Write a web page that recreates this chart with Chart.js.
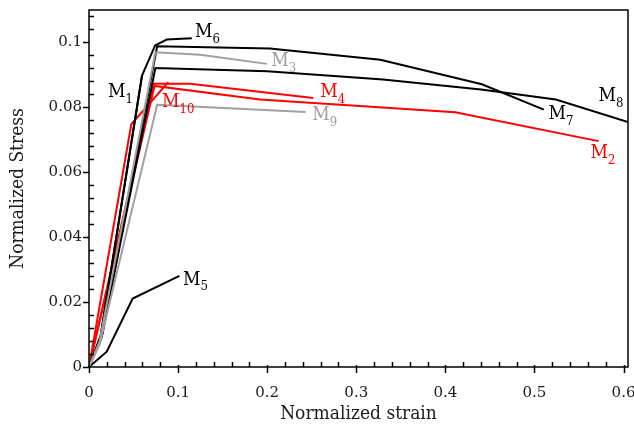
<!DOCTYPE html>
<html>
<head>
<meta charset="utf-8">
<script src="https://cdn.jsdelivr.net/npm/chart.js@4/dist/chart.umd.min.js"></script>
<style>
  html, body { margin: 0; padding: 0; background: #fff; }
  #wrap { width: 634px; height: 429px; }
</style>
</head>
<body>
<div id="wrap"><canvas id="chart" width="634" height="429"></canvas></div>
<script>
// tick values on both axes
const strainTicks = [0, 0.1, 0.2, 0.3, 0.4, 0.5, 0.6];
const stressTicks = [0, 0.02, 0.04, 0.06, 0.08, 0.1];

// curves: normalized strain / normalized stress
const m1Strain = [0, 0.013, 0.0595];
const m1Stress = [0, 0.0095, 0.0898];
const m2Strain = [0, 0.0735, 0.192, 0.411, 0.572];
const m2Stress = [0, 0.0866, 0.0824, 0.0785, 0.0696];
const m3Strain = [0, 0.012, 0.0745, 0.125, 0.1997];
const m3Stress = [0, 0.008, 0.097, 0.0962, 0.0934];
const m4Strain = [0, 0.0725, 0.1135, 0.2517];
const m4Stress = [0, 0.0873, 0.0873, 0.0829];
const m5Strain = [0, 0.0199, 0.049, 0.1015];
const m5Stress = [0, 0.0047, 0.0211, 0.0281];
const m6Strain = [0, 0.013, 0.0595, 0.0742, 0.0873, 0.1154];
const m6Stress = [0, 0.0095, 0.0898, 0.0991, 0.1009, 0.1013];
const m7Strain = [0, 0.015, 0.0765, 0.203, 0.327, 0.441, 0.5105];
const m7Stress = [0, 0.01, 0.0988, 0.0981, 0.0947, 0.0871, 0.0793];
const m8Strain = [0, 0.014, 0.0745, 0.2, 0.33, 0.44, 0.524, 0.605];
const m8Stress = [0, 0.009, 0.0921, 0.0911, 0.0886, 0.0855, 0.0824, 0.0755];
const m9Strain = [0, 0.012, 0.0765, 0.243];
const m9Stress = [0, 0.007, 0.0808, 0.0786];
const m10Strain = [0, 0.0475, 0.089];
const m10Stress = [0, 0.0748, 0.0878];

const BLACK = '#000000';
const RED = '#ff0000';
const GREY = '#a0a0a0';

const curves = [
  { name: 'M9', x: m9Strain, y: m9Stress, color: GREY },
  { name: 'M3', x: m3Strain, y: m3Stress, color: GREY },
  { name: 'M5', x: m5Strain, y: m5Stress, color: BLACK },
  { name: 'M8', x: m8Strain, y: m8Stress, color: BLACK },
  { name: 'M7', x: m7Strain, y: m7Stress, color: BLACK },
  { name: 'M1', x: m1Strain, y: m1Stress, color: BLACK },
  { name: 'M6', x: m6Strain, y: m6Stress, color: BLACK },
  { name: 'M2', x: m2Strain, y: m2Stress, color: RED },
  { name: 'M4', x: m4Strain, y: m4Stress, color: RED },
  { name: 'M10', x: m10Strain, y: m10Stress, color: RED }
];

// curve tags: left edge / vertical middle in data units
const tags = [
  { main: 'M', sub: '1', x: 0.0213, y: 0.0846, color: BLACK },
  { main: 'M', sub: '6', x: 0.119, y: 0.1031, color: BLACK },
  { main: 'M', sub: '3', x: 0.2045, y: 0.0942, color: GREY },
  { main: 'M', sub: '4', x: 0.2596, y: 0.0846, color: RED },
  { main: 'M', sub: '10', x: 0.082, y: 0.0815, color: RED },
  { main: 'M', sub: '9', x: 0.2506, y: 0.0775, color: GREY },
  { main: 'M', sub: '7', x: 0.5157, y: 0.0778, color: BLACK },
  { main: 'M', sub: '8', x: 0.5719, y: 0.0834, color: BLACK },
  { main: 'M', sub: '2', x: 0.5629, y: 0.0658, color: RED },
  { main: 'M', sub: '5', x: 0.1056, y: 0.0268, color: BLACK }
];

const SERIF = '"DejaVu Serif", "Liberation Serif", serif';
const SERIF_NARROW = '"DejaVu Serif Condensed", "DejaVu Serif", serif';

const datasets = curves.map(c => ({
  label: c.name,
  data: c.x.map((v, i) => ({ x: v, y: c.y[i] })),
  borderColor: c.color,
  backgroundColor: c.color,
  borderWidth: 2,
  pointRadius: 0,
  tension: 0,
  fill: false
}));

// frame + major/minor tick marks + curve tags
const framePlugin = {
  id: 'frame',
  afterDraw(chart) {
    const { ctx, chartArea: a, scales } = chart;
    const xs = scales.x, ys = scales.y;
    ctx.save();
    ctx.strokeStyle = '#000';
    ctx.lineWidth = 1.5;
    ctx.strokeRect(a.left, a.top, a.right - a.left, a.bottom - a.top);
    ctx.beginPath();
    for (let i = 0; i <= 30; i++) {
      const v = i * 0.02;
      if (v > xs.max + 1e-9) break;
      const px = Math.round(xs.getPixelForValue(v)) + 0.5;
      if (i % 5 === 0) { ctx.moveTo(px, a.bottom - 2); ctx.lineTo(px, a.bottom + 6); }
      else { ctx.moveTo(px, a.bottom); ctx.lineTo(px, a.bottom - 5); }
    }
    for (let i = 0; i <= 30; i++) {
      const v = i * 0.004;
      if (v > ys.max + 1e-9) break;
      const py = Math.round(ys.getPixelForValue(v)) + 0.5;
      if (i % 5 === 0) { ctx.moveTo(a.left - 6, py); ctx.lineTo(a.left, py); }
      else { ctx.moveTo(a.left, py); ctx.lineTo(a.left + 5, py); }
    }
    ctx.stroke();

    ctx.textBaseline = 'middle';
    ctx.textAlign = 'left';
    tags.forEach(t => {
      const px = xs.getPixelForValue(t.x);
      const py = ys.getPixelForValue(t.y);
      ctx.fillStyle = t.color;
      ctx.font = '19px ' + SERIF_NARROW;
      ctx.fillText(t.main, px, py);
      const w = ctx.measureText(t.main).width;
      ctx.font = '13px ' + SERIF_NARROW;
      ctx.fillText(t.sub, px + w, py + 7);
    });
    ctx.restore();
  }
};

new Chart(document.getElementById('chart'), {
  type: 'line',
  data: { datasets },
  options: {
    responsive: false,
    animation: false,
    layout: { padding: { top: 10, right: 6, left: 0, bottom: 0 } },
    plugins: { legend: { display: false }, tooltip: { enabled: false } },
    scales: {
      x: {
        type: 'linear',
        min: 0,
        max: 0.605,
        afterBuildTicks: s => { s.ticks = strainTicks.map(v => ({ value: v })); },
        afterFit: s => { s.height = 62; s.paddingLeft = 0; s.paddingRight = 0; },
        grid: { display: false, drawTicks: false },
        border: { display: false },
        ticks: {
          padding: 17,
          color: '#1a1a1a',
          font: { family: SERIF, size: 15 },
          callback: v => String(v)
        },
        title: {
          display: true,
          text: 'Normalized strain',
          color: '#1a1a1a',
          font: { family: SERIF_NARROW, size: 19 },
          padding: { top: 2, bottom: 4 }
        }
      },
      y: {
        type: 'linear',
        min: 0,
        max: 0.11,
        afterBuildTicks: s => { s.ticks = stressTicks.map(v => ({ value: v })); },
        afterFit: s => { s.width = 89; s.paddingTop = 0; s.paddingBottom = 0; },
        grid: { display: false, drawTicks: false },
        border: { display: false },
        ticks: {
          padding: 7,
          color: '#1a1a1a',
          font: { family: SERIF, size: 15 },
          callback: v => String(v)
        },
        title: {
          display: true,
          text: 'Normalized Stress',
          color: '#1a1a1a',
          font: { family: SERIF_NARROW, size: 19 },
          padding: { top: 7, bottom: 4 }
        }
      }
    }
  },
  plugins: [framePlugin]
});
</script>
</body>
</html>
